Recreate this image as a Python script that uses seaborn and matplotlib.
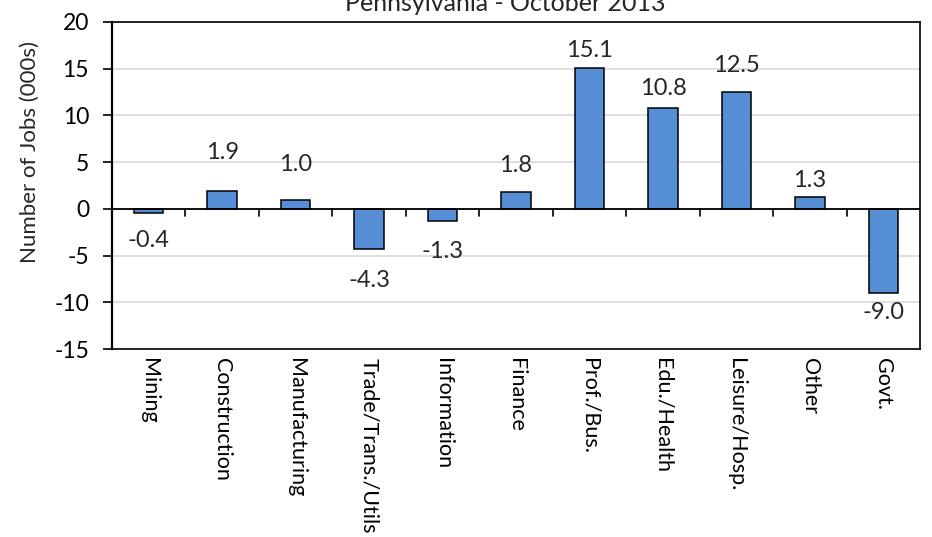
import matplotlib
matplotlib.use("Agg")
import matplotlib.pyplot as plt
import seaborn as sns
import pandas as pd

# data
industries = ["Mining", "Construction", "Manufacturing", "Trade/Trans./Utils",
              "Information", "Finance", "Prof./Bus.", "Edu./Health",
              "Leisure/Hosp.", "Other", "Govt."]
job_change = [-0.4, 1.9, 1.0, -4.3, -1.3, 1.8, 15.1, 10.8, 12.5, 1.3, -9.0]
title = "Pennsylvania - October 2013"

# gap (px) between bar end and its value label, labels were placed by hand
label_gap = [20, 31, 27, 23, 22, 19, 9, 11, 19, 8, 12]

sns.set_theme(style="white")
plt.rcParams["font.family"] = ["Lato", "DejaVu Sans"]
plt.rcParams["axes.unicode_minus"] = False

df = pd.DataFrame({"industry": industries, "jobs": job_change})

fig = plt.figure(figsize=(9.32, 5.37), dpi=100)
ax = fig.add_axes([112 / 932, 1 - 349 / 537, 808 / 932, 327 / 537])

sns.barplot(data=df, x="industry", y="jobs", color="#558ED5", width=0.4,
            edgecolor="black", linewidth=1.1, saturation=1, ax=ax, zorder=3)

ax.set_ylim(-15, 20)
ax.set_yticks(range(-15, 21, 5))
ax.set_xlim(-0.5, len(industries) - 0.5)
ax.yaxis.grid(True, color="#D9D9D9", linewidth=1.2, zorder=0)
ax.axhline(0, color="black", linewidth=1.3, zorder=4)

for s in ax.spines.values():
    s.set_color("black")
    s.set_linewidth(1.2)
ax.spines["left"].set_linewidth(1.6)

ax.tick_params(axis="y", which="both", left=True, length=6.5, width=1.2,
               labelsize=16.5, colors="black", pad=10)
ax.tick_params(axis="x", bottom=False, length=0, labelsize=15.5, pad=6.5,
               colors="black")
ax.set_xticks(range(len(industries)))
ax.set_xticklabels(industries, rotation=270, va="top", ha="center")

# category boundary ticks on the zero line
for b in range(1, len(industries)):
    ax.plot([b - 0.5, b - 0.5], [0, -0.75], color="black", linewidth=1.2, zorder=4)

ax.set_xlabel("")
ax.set_ylabel("")
fig.text(30 / 932, 1 - 152 / 537, "Number of Jobs (000s)", rotation=90,
         ha="center", va="center", fontsize=16)
fig.text(505 / 932, 1 - 11 / 537, title, ha="center", va="baseline", fontsize=18)

for i, v in enumerate(job_change):
    off = (label_gap[i] + 8) * 0.72
    ax.annotate(f"{v:.1f}", (i, v), xytext=(0, off if v >= 0 else -off),
                textcoords="offset points", ha="center", va="center",
                fontsize=17)

fig.savefig("out.png", dpi=100)
